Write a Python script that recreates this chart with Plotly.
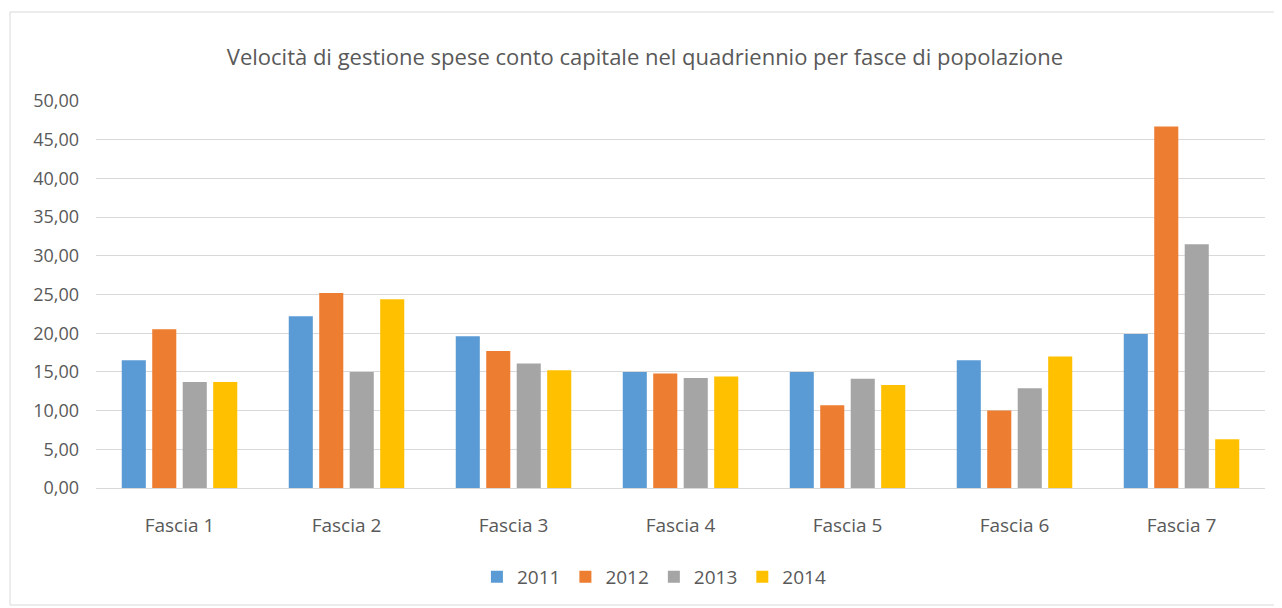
import plotly.graph_objects as go

fasce = ["Fascia 1", "Fascia 2", "Fascia 3", "Fascia 4", "Fascia 5", "Fascia 6", "Fascia 7"]
anni = ["2011", "2012", "2013", "2014"]
v2011 = [16.5, 22.2, 19.6, 15.0, 15.0, 16.5, 19.9]
v2012 = [20.5, 25.2, 17.7, 14.8, 10.7, 10.0, 46.7]
v2013 = [13.7, 15.0, 16.1, 14.2, 14.1, 12.9, 31.5]
v2014 = [13.7, 24.4, 15.2, 14.4, 13.3, 17.0, 6.3]
valori = [v2011, v2012, v2013, v2014]
colori = ["#5B9BD5", "#ED7D31", "#A5A5A5", "#FFC000"]

fig = go.Figure()
for anno, vals, col in zip(anni, valori, colori):
    fig.add_trace(go.Bar(x=fasce, y=vals, name=anno, marker_color=col,
                         marker_line_width=0))

# la pagina ha un margine di 8px, quindi figura un po' più piccola
fig.update_layout(
    width=1274, height=600,
    margin=dict(l=88, r=17, t=93, b=120),
    paper_bgcolor="white", plot_bgcolor="white",
    separators=",.",
    font=dict(family="Open Sans", color="#595959", size=18),
    title=dict(text="Velocità di gestione spese conto capitale nel quadriennio per fasce di popolazione",
               x=0.5, xanchor="center", y=0.918, yanchor="middle",
               font=dict(size=22, color="#595959")),
    barmode="group", bargap=0.27, bargroupgap=0.21,
    legend=dict(orientation="h", xref="container", yref="container",
                x=0.507, xanchor="center", y=0.052, yanchor="middle",
                font=dict(size=19), itemwidth=30, traceorder="normal"),
    showlegend=True,
)
fig.update_yaxes(range=[0, 50], dtick=5, tickformat=".2f", gridcolor="#D9D9D9",
                 gridwidth=1, zeroline=False, showline=False, ticks="",
                 tickfont=dict(size=18), ticklabelstandoff=16)
fig.update_xaxes(showline=True, linecolor="#D9D9D9", linewidth=1, ticks="",
                 tickfont=dict(size=19), ticklabelstandoff=20)
fig.add_shape(type="rect", xref="paper", yref="paper",
              x0=-86 / 1169, x1=1 + 14 / 1169, y0=-117 / 387, y1=1 + 89 / 387,
              line=dict(color="#D9D9D9", width=1), fillcolor="rgba(0,0,0,0)", layer="below")
fig.write_html("out.html")
